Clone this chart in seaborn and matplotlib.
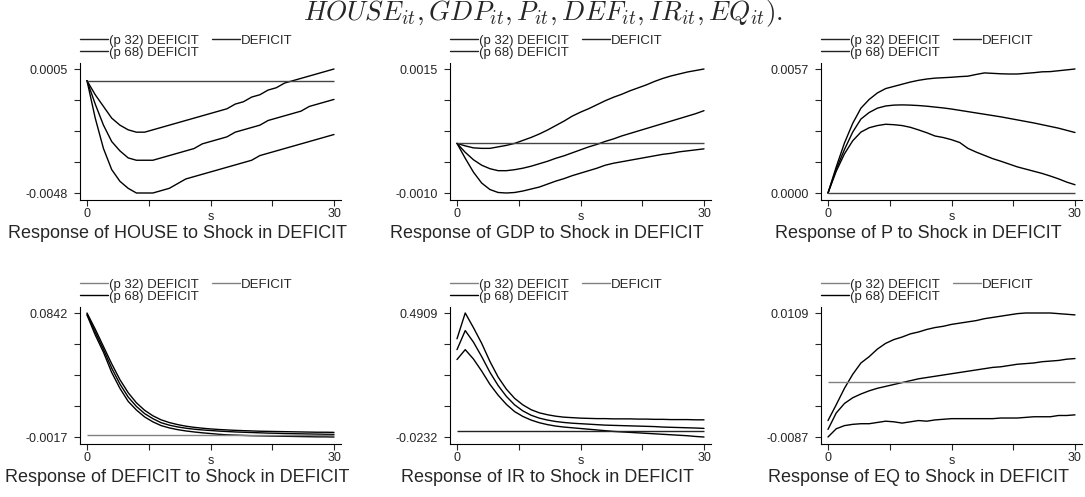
import numpy as np
import pandas as pd
import seaborn as sns
import matplotlib.pyplot as plt
from matplotlib.lines import Line2D

# =============================================================================
# data read off the impulse responses (shock in DEFICIT), horizon s = 0..30
steps = np.arange(0, 31)

house_lo = [0, -0.0016, -0.0029, -0.0038, -0.0043, -0.0046, -0.0048, -0.0048, -0.0048, -0.0047,
            -0.0046, -0.0044, -0.0042, -0.0041, -0.0040, -0.0039, -0.0038, -0.0037, -0.0036, -0.0035,
            -0.0034, -0.0032, -0.0031, -0.0030, -0.0029, -0.0028, -0.0027, -0.0026, -0.0025, -0.0024, -0.0023]
house_mid = [0, -0.0010, -0.0019, -0.0026, -0.0030, -0.0033, -0.0034, -0.0034, -0.0034, -0.0033,
             -0.0032, -0.0031, -0.0030, -0.0029, -0.0027, -0.0026, -0.0025, -0.0024, -0.0022, -0.0021,
             -0.0020, -0.0019, -0.0017, -0.0016, -0.0015, -0.0014, -0.0013, -0.0011, -0.0010, -0.0009, -0.0008]
house_hi = [0, -0.0006, -0.0011, -0.0016, -0.0019, -0.0021, -0.0022, -0.0022, -0.0021, -0.0020,
            -0.0019, -0.0018, -0.0017, -0.0016, -0.0015, -0.0014, -0.0013, -0.0012, -0.0010, -0.0009,
            -0.0007, -0.0006, -0.0004, -0.0003, -0.0001, 0.0000, 0.0001, 0.0002, 0.0003, 0.0004, 0.0005]

gdp_lo = [0, -0.0003, -0.00058, -0.0008, -0.00093, -0.00099, -0.0010, -0.00099, -0.00096, -0.00092,
          -0.00088, -0.00082, -0.00076, -0.00071, -0.00065, -0.0006, -0.00055, -0.0005, -0.00044, -0.0004,
          -0.00037, -0.00034, -0.00031, -0.00028, -0.00025, -0.00022, -0.0002, -0.00017, -0.00015, -0.00013, -0.00011]
gdp_mid = [0, -0.00018, -0.00033, -0.00044, -0.00051, -0.00055, -0.00055, -0.00053, -0.0005, -0.00046,
           -0.00041, -0.00036, -0.0003, -0.00025, -0.00019, -0.00013, -0.00007, -0.00002, 0.00004, 0.00009,
           0.00015, 0.0002, 0.00025, 0.0003, 0.00035, 0.0004, 0.00045, 0.0005, 0.00055, 0.0006, 0.00066]
gdp_hi = [0, -0.00005, -0.00009, -0.0001, -0.0001, -0.00007, -0.00004, 0.0, 0.00006, 0.00012,
          0.00019, 0.00027, 0.00036, 0.00045, 0.00055, 0.00063, 0.0007, 0.00078, 0.00086, 0.00093,
          0.00099, 0.00106, 0.00112, 0.00118, 0.00125, 0.00131, 0.00136, 0.0014, 0.00144, 0.00147, 0.0015]

p_lo = [0, 0.0010, 0.0018, 0.0024, 0.0028, 0.0030, 0.0031, 0.00316, 0.00314, 0.0031,
        0.00302, 0.0029, 0.00277, 0.00262, 0.00255, 0.00245, 0.00232, 0.00205, 0.00188, 0.00173,
        0.00158, 0.00146, 0.00133, 0.0012, 0.0011, 0.0010, 0.0009, 0.00078, 0.00065, 0.0005, 0.00038]
p_mid = [0, 0.0011, 0.0020, 0.0028, 0.0034, 0.0037, 0.0039, 0.0040, 0.00404, 0.00405,
         0.00404, 0.00402, 0.00399, 0.00395, 0.00391, 0.00386, 0.0038, 0.00374, 0.00368, 0.00362,
         0.00356, 0.0035, 0.00343, 0.00336, 0.00329, 0.00322, 0.00314, 0.00306, 0.00298, 0.00288, 0.00278]
p_hi = [0, 0.0012, 0.0023, 0.0032, 0.0039, 0.0043, 0.0046, 0.0048, 0.0049, 0.0050,
        0.0051, 0.00518, 0.00524, 0.00528, 0.0053, 0.00532, 0.00535, 0.00537, 0.00545, 0.00552,
        0.0055, 0.00548, 0.00547, 0.00547, 0.0055, 0.00553, 0.00557, 0.00558, 0.00562, 0.00566, 0.0057]

def_lo = [0.0828, 0.069, 0.057, 0.043, 0.032, 0.023, 0.017, 0.0122, 0.0088, 0.0062,
          0.0046, 0.0034, 0.0025, 0.0018, 0.0012, 0.0007, 0.0002, -0.0002, -0.0004, -0.0006,
          -0.0008, -0.0009, -0.0010, -0.0011, -0.0012, -0.0013, -0.0014, -0.0015, -0.0016, -0.0016, -0.0017]
def_mid = [0.0835, 0.071, 0.059, 0.046, 0.035, 0.026, 0.0195, 0.0145, 0.011, 0.0082,
           0.0065, 0.0053, 0.0044, 0.0037, 0.0032, 0.0028, 0.0024, 0.0021, 0.0018, 0.0016,
           0.0014, 0.0012, 0.0010, 0.0009, 0.0007, 0.0006, 0.0005, 0.0004, 0.0003, 0.0002, 0.0001]
def_hi = [0.0842, 0.073, 0.061, 0.049, 0.038, 0.029, 0.022, 0.0168, 0.0130, 0.0102,
          0.0083, 0.0069, 0.0058, 0.0050, 0.0044, 0.0039, 0.0035, 0.0032, 0.0029, 0.0027,
          0.0025, 0.0023, 0.0022, 0.0021, 0.0020, 0.0019, 0.0018, 0.0017, 0.0016, 0.0016, 0.0015]

ir_lo = [0.298, 0.339, 0.30, 0.25, 0.195, 0.15, 0.112, 0.082, 0.062, 0.047,
         0.036, 0.028, 0.022, 0.018, 0.015, 0.012, 0.009, 0.006, 0.003, 0.0,
         -0.002, -0.004, -0.006, -0.008, -0.010, -0.012, -0.014, -0.016, -0.018, -0.021, -0.0232]
ir_mid = [0.339, 0.418, 0.37, 0.31, 0.245, 0.19, 0.145, 0.11, 0.085, 0.067,
          0.055, 0.047, 0.041, 0.037, 0.034, 0.032, 0.030, 0.028, 0.026, 0.025,
          0.024, 0.023, 0.022, 0.021, 0.020, 0.018, 0.017, 0.016, 0.015, 0.014, 0.0125]
ir_hi = [0.384, 0.4909, 0.43, 0.365, 0.29, 0.225, 0.175, 0.137, 0.11, 0.09,
         0.077, 0.069, 0.063, 0.059, 0.057, 0.055, 0.054, 0.053, 0.053, 0.052,
         0.052, 0.052, 0.051, 0.051, 0.050, 0.050, 0.049, 0.049, 0.049, 0.048, 0.048]

eq_lo = [-0.0087, -0.0074, -0.0069, -0.0067, -0.0066, -0.0066, -0.0064, -0.0062, -0.0063, -0.0065,
         -0.0063, -0.0061, -0.0062, -0.0060, -0.0059, -0.0058, -0.0058, -0.0058, -0.0058, -0.0058,
         -0.0058, -0.0057, -0.0057, -0.0057, -0.0056, -0.0055, -0.0055, -0.0055, -0.0053, -0.0053, -0.0052]
eq_mid = [-0.0075, -0.0049, -0.0034, -0.0025, -0.0019, -0.0014, -0.0010, -0.0007, -0.0004, -0.0001,
          0.0002, 0.0005, 0.0007, 0.0009, 0.0011, 0.0013, 0.0015, 0.0017, 0.0019, 0.0021,
          0.0023, 0.0024, 0.0026, 0.0028, 0.0029, 0.0030, 0.0032, 0.0033, 0.0034, 0.0036, 0.0037]
eq_hi = [-0.0061, -0.0036, -0.0010, 0.0012, 0.0030, 0.0040, 0.0052, 0.0061, 0.0067, 0.0071,
         0.0076, 0.0079, 0.0083, 0.0086, 0.0088, 0.0091, 0.0093, 0.0095, 0.0097, 0.0100,
         0.0102, 0.0104, 0.0106, 0.0108, 0.0109, 0.0109, 0.0109, 0.0109, 0.0108, 0.0107, 0.0106]

variables = ['HOUSE', 'GDP', 'P', 'DEFICIT', 'IR', 'EQ']
lows = [house_lo, gdp_lo, p_lo, def_lo, ir_lo, eq_lo]
mids = [house_mid, gdp_mid, p_mid, def_mid, ir_mid, eq_mid]
highs = [house_hi, gdp_hi, p_hi, def_hi, ir_hi, eq_hi]
y_top = [0.0005, 0.0015, 0.0057, 0.0842, 0.4909, 0.0109]
y_bot = [-0.0048, -0.0010, 0.0000, -0.0017, -0.0232, -0.0087]
band_names = ['(p 32) DEFICIT', 'DEFICIT', '(p 68) DEFICIT']

# =============================================================================
sns.set_style('white')
plt.rcParams['font.family'] = ['Liberation Sans', 'DejaVu Sans']
plt.rcParams['mathtext.fontset'] = 'cm'

W, H = 1085, 497
fig = plt.figure(figsize=(W / 100, H / 100), dpi=100)
fig.text(0.5, 1 - 20 / H, r'$HOUSE_{it}, GDP_{it}, P_{it}, DEF_{it}, IR_{it}, EQ_{it}).$',
         fontsize=19.5, ha='center', va='baseline')

col_left = [80, 450, 821]
row_top = [63, 307]
ax_w, ax_h = 261, 137
zero_cols = ['#444444', '#444444', '#444444', '#808080', '#222222', '#808080']

for i, var in enumerate(variables):
    r, c = divmod(i, 3)
    ax = fig.add_axes([col_left[c] / W, 1 - (row_top[r] + ax_h) / H, ax_w / W, ax_h / H])
    df = pd.DataFrame({'s': np.tile(steps, 3),
                       'value': np.concatenate([lows[i], mids[i], highs[i]]),
                       'band': np.repeat(band_names, len(steps))})
    sns.lineplot(data=df, x='s', y='value', hue='band', palette=['black'] * 3,
                 legend=False, ax=ax, lw=1.0)
    ax.hlines(0, steps[0], steps[-1], color=zero_cols[i], lw=1.0)

    pad = 7 / (247 / 30)
    ax.set_xlim(steps[0] - pad, steps[-1] + pad)
    yr = y_top[i] - y_bot[i]
    ax.set_ylim(y_bot[i] - 7 / 124 * yr, y_top[i] + 6 / 124 * yr)
    ax.set_yticks(np.linspace(y_bot[i], y_top[i], 5))
    ax.set_yticklabels([f'{y_bot[i]:.4f}', '', '', '', f'{y_top[i]:.4f}'])
    ax.set_xticks(np.linspace(steps[0], steps[-1], 5))
    ax.set_xticklabels([str(steps[0]), '', '', '', str(steps[-1])])
    ax.tick_params(direction='out', length=4, width=0.8, labelsize=9, pad=2, left=True, bottom=True)
    ax.tick_params(axis='y', pad=5)
    sns.despine(ax=ax)
    for sp in ['left', 'bottom']:
        ax.spines[sp].set_color('black')
        ax.spines[sp].set_linewidth(0.8)
    ax.set_ylabel('')
    ax.set_xlabel('s', fontsize=9, va='center')
    ax.xaxis.set_label_coords(0.5, -0.125)

    leg_cols = ['#222222', '#222222', '#222222'] if r == 0 else ['#808080', '#808080', 'black']
    handles = [Line2D([], [], color=leg_cols[0], lw=1.0),
               Line2D([], [], color=leg_cols[2], lw=1.0),
               Line2D([], [], color=leg_cols[1], lw=1.0)]
    ax.legend(handles, [band_names[0], band_names[2], band_names[1]], ncol=2,
              loc='lower left', bbox_to_anchor=(0, 1.03), frameon=False, fontsize=9.5,
              handlelength=2.1, handletextpad=0.1, columnspacing=1.0, labelspacing=0.0,
              borderpad=0, borderaxespad=0)

    ax.text(0.372, -0.245, f'Response of {var} to Shock in DEFICIT', transform=ax.transAxes,
            ha='center', va='center', fontsize=13)

plt.savefig('out.png', dpi=100)
